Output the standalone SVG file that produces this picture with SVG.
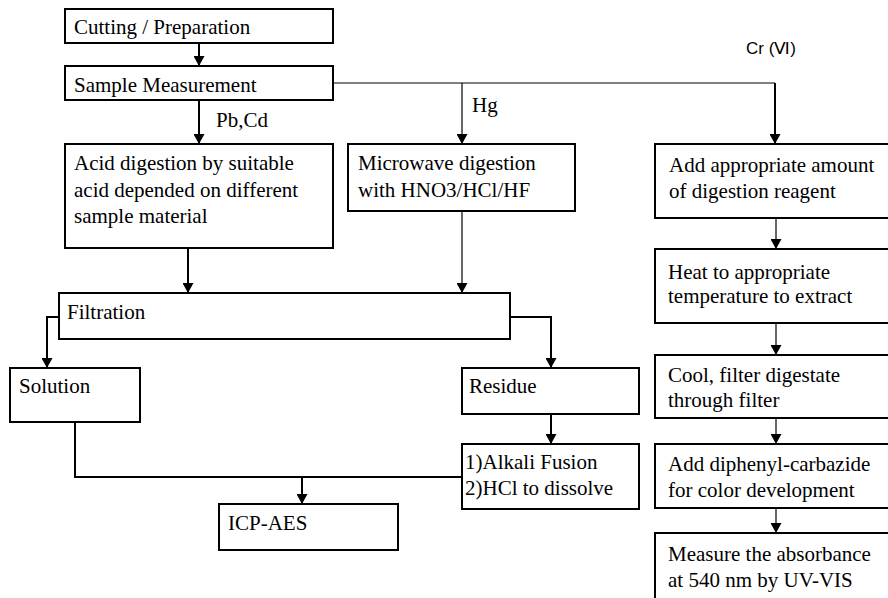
<svg xmlns="http://www.w3.org/2000/svg" width="888" height="598" viewBox="0 0 888 598">
<style>
.box{fill:#fff;stroke:#000;stroke-width:2}
.t{font-family:"Liberation Serif","Times New Roman",serif;font-size:21px;fill:#000}
.s{font-family:"Liberation Sans",Arial,sans-serif;font-size:17px;fill:#000}
.c{fill:none;stroke:#000;stroke-width:2}
.c1{fill:none;stroke:#000;stroke-width:1.2}
</style>
<defs>
<marker id="ah" viewBox="0 0 10 11" refX="10" refY="5.5" markerWidth="10" markerHeight="11" markerUnits="userSpaceOnUse" orient="auto">
<path d="M0,0 L10,5.5 L0,11 z" fill="#000"/>
</marker>
</defs>
<rect width="888" height="598" fill="#fff"/>
<g id="connectors">
<line class="c" x1="199" y1="43" x2="199" y2="66" marker-end="url(#ah)"/>
<line class="c" x1="199" y1="100" x2="199" y2="144" marker-end="url(#ah)"/>
<polyline class="c1" points="333,83 775,83"/>
<line class="c1" x1="462" y1="83" x2="462" y2="144" marker-end="url(#ah)"/>
<line class="c" x1="775" y1="83" x2="775" y2="144" marker-end="url(#ah)"/>
<line class="c" x1="188" y1="248" x2="188" y2="293" marker-end="url(#ah)"/>
<line class="c1" x1="462" y1="211" x2="462" y2="293" marker-end="url(#ah)"/>
<polyline class="c" points="59,317 47,317 47,368" marker-end="url(#ah)"/>
<polyline class="c" points="510,317 551,317 551,368" marker-end="url(#ah)"/>
<line class="c" x1="551" y1="414" x2="551" y2="444" marker-end="url(#ah)"/>
<polyline class="c" points="75,422 75,477 462,477"/>
<line class="c" x1="302" y1="477" x2="302" y2="504" marker-end="url(#ah)"/>
<line class="c1" x1="776" y1="218" x2="776" y2="249" marker-end="url(#ah)"/>
<line class="c1" x1="776" y1="323" x2="776" y2="355" marker-end="url(#ah)"/>
<line class="c1" x1="776" y1="418" x2="776" y2="444" marker-end="url(#ah)"/>
<line class="c1" x1="776" y1="508" x2="776" y2="533" marker-end="url(#ah)"/>
<text class="t" x="216" y="127">Pb,Cd</text>
<text class="t" x="472" y="112">Hg</text>
<text class="s" x="746" y="54">Cr (Ⅵ)</text>
</g>
<g id="cutting"><rect class="box" x="65" y="9" width="268" height="34"/><text class="t" x="74" y="34">Cutting / Preparation</text></g>
<g id="sample"><rect class="box" x="65" y="66" width="268" height="34"/><text class="t" x="74" y="92">Sample Measurement</text></g>
<g id="acid"><rect class="box" x="65" y="144" width="268" height="104"/><text class="t" x="74" y="170">Acid digestion by suitable</text><text class="t" x="74" y="197">acid depended on different</text><text class="t" x="74" y="223">sample material</text></g>
<g id="microwave"><rect class="box" x="348" y="144" width="227" height="67"/><text class="t" x="358" y="170">Microwave digestion</text><text class="t" x="358" y="197">with HNO3/HCl/HF</text></g>
<g id="filtration"><rect class="box" x="59" y="293" width="451" height="46"/><text class="t" x="67" y="319">Filtration</text></g>
<g id="solution"><rect class="box" x="10" y="368" width="130" height="54"/><text class="t" x="19" y="393">Solution</text></g>
<g id="residue"><rect class="box" x="462" y="368" width="177" height="46"/><text class="t" x="469" y="393">Residue</text></g>
<g id="alkali"><rect class="box" x="462" y="444" width="177" height="65"/><text class="t" x="465" y="469">1)Alkali Fusion</text><text class="t" x="465" y="495">2)HCl to dissolve</text></g>
<g id="icp"><rect class="box" x="219" y="504" width="179" height="46"/><text class="t" x="228" y="530">ICP-AES</text></g>
<g id="add-reagent"><rect class="box" x="655" y="144" width="240" height="74"/><text class="t" x="669" y="172">Add appropriate amount</text><text class="t" x="669" y="198">of digestion reagent</text></g>
<g id="heat"><rect class="box" x="655" y="249" width="240" height="74"/><text class="t" x="668" y="279">Heat to appropriate</text><text class="t" x="668" y="303">temperature to extract</text></g>
<g id="cool"><rect class="box" x="655" y="355" width="240" height="63"/><text class="t" x="668" y="382">Cool, filter digestate</text><text class="t" x="668" y="407">through filter</text></g>
<g id="diphenyl"><rect class="box" x="655" y="444" width="240" height="64"/><text class="t" x="668" y="471">Add diphenyl-carbazide</text><text class="t" x="668" y="497">for color development</text></g>
<g id="measure"><rect class="box" x="655" y="533" width="240" height="80"/><text class="t" x="668" y="561">Measure the absorbance</text><text class="t" x="668" y="587">at 540 nm by UV-VIS</text></g>
</svg>
